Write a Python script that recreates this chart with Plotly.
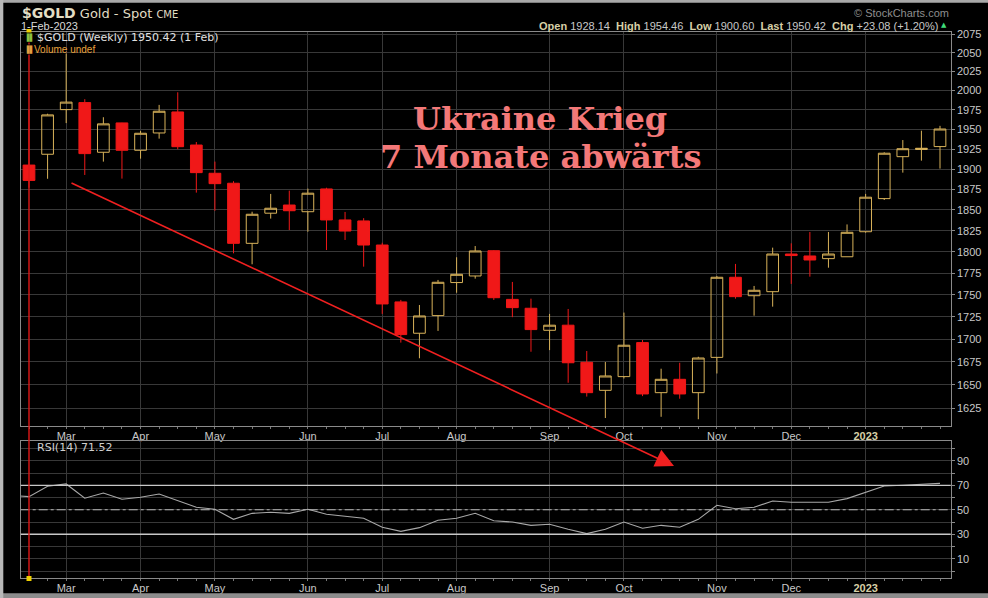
import plotly.graph_objects as go
import pandas as pd

W, H = 988, 598

# ---------------- data ----------------
week_start = pd.date_range("2022-02-21", periods=50, freq="7D")
opens = [1905, 1918.5, 1975.3, 1984.4, 1921, 1958.2, 1923.5, 1945.4, 1972.3, 1930.1,
         1894.8, 1882.5, 1810, 1846, 1855.9, 1847.8, 1875.5, 1837.9, 1836.7, 1808,
         1742, 1706.7, 1726.5, 1764.2, 1771.8, 1801.3, 1744.9, 1734.8, 1710, 1715.7,
         1674.6, 1644.2, 1659, 1696.3, 1641.7, 1656.1, 1641.7, 1680, 1770.3, 1749.1,
         1753.7, 1797.4, 1795.1, 1792, 1794.2, 1823.8, 1863.7, 1915.5, 1924.5, 1928.14]
highs = [1975, 1970, 2049, 1988.8, 1965.5, 1958.5, 1948, 1981.4, 1997.8, 1933.9,
         1909.3, 1885, 1847.8, 1869.4, 1873.4, 1875.9, 1877, 1847.5, 1840, 1810.7,
         1744.3, 1738.5, 1767.2, 1793.6, 1806.8, 1802, 1764.9, 1745.7, 1728.4, 1734,
         1687, 1674.9, 1729.9, 1699.2, 1667.6, 1674.1, 1680.7, 1771.8, 1785.8, 1760.3,
         1804.9, 1810, 1823.5, 1823.5, 1832.5, 1869.4, 1921, 1936.4, 1948.3, 1954.46]
lows = [1877, 1888, 1958, 1892.7, 1909.3, 1888.2, 1913, 1938.2, 1924.8, 1871,
        1849, 1798.2, 1785.4, 1839.5, 1825.8, 1823.8, 1802.1, 1814, 1782.6, 1728.4,
        1696.3, 1679, 1709.3, 1752.5, 1768.7, 1744.3, 1724.7, 1686.2, 1688, 1652.4,
        1637.5, 1614.7, 1657, 1638, 1616, 1635.2, 1613.4, 1662.4, 1745.7, 1726.4,
        1736.6, 1762.6, 1771, 1781.4, 1794.2, 1822.6, 1862, 1895.6, 1910.5, 1900.6]
closes = [1886, 1968.5, 1985, 1919.3, 1957, 1923.5, 1945, 1973.2, 1928, 1895.6,
          1882, 1810, 1844.7, 1852, 1849, 1870.3, 1837.9, 1824.6, 1808, 1739.7,
          1705.2, 1726.1, 1764.5, 1773.7, 1801, 1746.8, 1735.5, 1710.8, 1715.7, 1674.1,
          1641.7, 1659.7, 1693.4, 1640.3, 1656.1, 1640.3, 1679.3, 1770.3, 1748, 1755.3,
          1797.4, 1795.6, 1790.4, 1797.4, 1823.1, 1865.4, 1919.8, 1925.5, 1926, 1950.42]

rsi_dates = pd.date_range("2022-02-14", periods=51, freq="7D")
rsi_values = [61.8, 60.7, 69.2, 71.1, 59.4, 63.7, 58.6, 60.2, 62.9, 57.2,
              52.0, 50.4, 42.2, 47.1, 48.0, 47.1, 50.4, 46.3, 44.9, 43.1,
              35.7, 32.4, 35.4, 41.4, 43.1, 47.1, 41.1, 40.0, 37.3, 38.2,
              34.1, 30.5, 34.1, 40.0, 34.9, 37.3, 35.7, 42.2, 53.7, 50.9,
              52.0, 57.2, 56.1, 56.1, 56.1, 59.1, 64.0, 69.4, 70.0, 70.8, 71.52]

price_ticks = list(range(1625, 2076, 25))
rsi_grid = list(range(0, 101, 10))
rsi_labels = [10, 30, 50, 70, 90]

title_lines = ["Ukraine Krieg", "7 Monate abwärts"]
quote = {"Open": "1928.14", "High": "1954.46", "Low": "1900.60",
         "Last": "1950.42", "Chg": "+23.08 (+1.20%)"}

# ---------------- helpers ----------------
def px(x):
    return x / W

def py(y):
    return 1 - y / H

BG = "#000000"
GRID = "#383838"
FRAME = "#8a8a8a"
TXT = "#c8c8c8"
TAN = "#d6cfa6"
UP = "#d8b25a"
DOWN = "#f01818"

# month ticks at first candle of each month
month_pos, month_text = [], []
prev = None
for d in week_start:
    key = (d.year, d.month)
    if prev is not None and key != prev:
        month_pos.append(d)
        if d.month == 1:
            month_text.append(f"<b><span style='color:{TAN}'>{d.year}</span></b>")
        else:
            month_text.append(d.strftime("%b"))
    prev = key

step = pd.Timedelta(days=7)
x_range = [week_start[0] - step * 0.4465, week_start[-1] + step * 0.5756]

fig = go.Figure()

fig.add_trace(go.Candlestick(
    x=week_start, open=opens, high=highs, low=lows, close=closes,
    xaxis="x", yaxis="y", whiskerwidth=0,
    increasing=dict(line=dict(color=UP, width=1), fillcolor="rgba(0,0,0,0)"),
    decreasing=dict(line=dict(color=DOWN, width=1), fillcolor=DOWN),
    showlegend=False, hoverinfo="skip",
))

fig.add_trace(go.Scatter(
    x=rsi_dates, y=rsi_values, mode="lines", xaxis="x2", yaxis="y2",
    line=dict(color="#a8a8a8", width=1.1), showlegend=False, hoverinfo="skip",
))

font_axis = dict(family="Liberation Sans, Arial", size=11, color=TXT)

common_x = dict(
    type="date", range=x_range, tickvals=month_pos, ticktext=month_text,
    showgrid=True, gridcolor=GRID, gridwidth=1, showline=True, mirror=True,
    linecolor=FRAME, linewidth=1, ticks="", tickfont=font_axis,
    zeroline=False, domain=[px(20.7), px(950.7)],
    minor=dict(ticks="outside", ticklen=2, tickcolor="#777777",
               dtick=7 * 24 * 3600 * 1000, tick0=week_start[0], showgrid=False),
    automargin=False,
)

fig.update_layout(
    width=W, height=H,
    margin=dict(l=0, r=0, t=0, b=0),
    paper_bgcolor=BG, plot_bgcolor=BG,
    showlegend=False,
    boxgap=0.37, boxgroupgap=0,
    xaxis=dict(common_x, anchor="y", rangeslider=dict(visible=False)),
    xaxis2=dict(common_x, anchor="y2", matches="x"),
    yaxis=dict(
        domain=[py(426), py(31.7)], type="log",
        range=[3.20583, 3.31775], side="right",
        tickvals=price_ticks, ticktext=[str(v) for v in price_ticks],
        showgrid=True, gridcolor=GRID, showline=True, mirror=True,
        linecolor=FRAME, ticks="outside", ticklen=3, tickcolor=FRAME,
        tickfont=font_axis, zeroline=False, automargin=False, anchor="x",
    ),
    yaxis2=dict(
        domain=[py(578), py(440.7)], range=[-5.7, 106.4], side="right",
        tickvals=rsi_grid,
        ticktext=[str(v) if v in rsi_labels else "" for v in rsi_grid],
        showgrid=True, gridcolor=GRID, showline=True, mirror=True,
        linecolor=FRAME, ticks="outside", ticklen=3, tickcolor=FRAME,
        tickfont=font_axis, zeroline=False, automargin=False, anchor="x2",
    ),
)

shapes = [
    # RSI reference levels
    dict(type="line", xref="x2 domain", yref="y2", x0=0, x1=1, y0=70, y1=70,
         line=dict(color="#c8c8c8", width=1.3)),
    dict(type="line", xref="x2 domain", yref="y2", x0=0, x1=1, y0=30, y1=30,
         line=dict(color="#c8c8c8", width=1.3)),
    dict(type="line", xref="x2 domain", yref="y2", x0=0, x1=1, y0=50, y1=50,
         line=dict(color="#b8b8b8", width=1, dash="dashdot")),
    # start marker line
    dict(type="line", xref="x", yref="paper", x0=week_start[0], x1=week_start[0],
         y0=py(578), y1=py(31.7), line=dict(color="#e01818", width=1.4), layer="above"),
    dict(type="rect", xref="x", yref="paper", xsizemode="pixel", ysizemode="pixel",
         xanchor=week_start[0], yanchor=py(31.5), x0=-2.5, x1=2.5, y0=-2.5, y1=2.5,
         fillcolor="#f0d000", line=dict(width=0), layer="above"),
    dict(type="rect", xref="x", yref="paper", xsizemode="pixel", ysizemode="pixel",
         xanchor=week_start[0], yanchor=py(578.5), x0=-2.5, x1=2.5, y0=-2.5, y1=2.5,
         fillcolor="#f0d000", line=dict(width=0), layer="above"),
    # screenshot frame strips
    dict(type="rect", xref="paper", yref="paper", x0=0, x1=1, y0=0, y1=py(593.3),
         fillcolor="#8c8c8c", line=dict(width=0), layer="above"),
    dict(type="rect", xref="paper", yref="paper", x0=0, x1=1, y0=py(2.7), y1=1,
         fillcolor="#a8a8a8", line=dict(width=0), layer="above"),
    dict(type="rect", xref="paper", yref="paper", x0=0, x1=px(3.3), y0=0, y1=1,
         fillcolor="#b8b8b8", line=dict(width=0), layer="above"),
]
fig.update_layout(shapes=shapes)

NB = "\u00a0"
quote_txt = (NB * 2).join(
    f"<b><span style='color:{TAN}'>{k}</span></b>{NB}<span style='color:{TXT}'>{v}</span>"
    for k, v in quote.items()
)

ann = [
    dict(x=px(20), y=py(13), xanchor="left", yanchor="middle",
         text=f"<b><span style='font-size:14px;color:#e2ddc4'>$GOLD</span></b> "
              f"<span style='color:#e2ddc4'>Gold - Spot</span> "
              f"<span style='font-size:10px;color:#e2ddc4'>CME</span>",
         font=dict(family="DejaVu Sans", size=13, color="#e2ddc4")),
    dict(x=px(19), y=py(25.5), xanchor="left", yanchor="middle", text="1-Feb-2023",
         font=dict(family="Liberation Sans, Arial", size=11, color="#d8d8d8")),
    dict(x=px(951), y=py(12.5), xanchor="right", yanchor="middle", text="© StockCharts.com",
         font=dict(family="Liberation Sans, Arial", size=11, color="#8e8e8e")),
    dict(x=px(940), y=py(25.5), xanchor="right", yanchor="middle", text=quote_txt,
         font=dict(family="Liberation Sans, Arial", size=11, color=TXT)),
    dict(x=px(949), y=py(25), xanchor="right", yanchor="middle", text="▲",
         font=dict(family="DejaVu Sans", size=7, color="#3fdc7a")),
    # in-chart legend lines
    dict(x=px(22.5), y=py(37.5), xanchor="left", yanchor="middle", text="▐▌",
         font=dict(family="DejaVu Sans", size=7, color="#8ac040"), bgcolor=BG, borderpad=0),
    dict(x=px(35.5), y=py(37.5), xanchor="left", yanchor="middle",
         text="$GOLD (Weekly) 1950.42 (1 Feb)", borderpad=0,
         font=dict(family="DejaVu Sans", size=11, color="#e0e0e0")),
    dict(x=px(22.5), y=py(49.5), xanchor="left", yanchor="middle", text="▐▌",
         font=dict(family="DejaVu Sans", size=7, color="#e0a040"), bgcolor=BG, borderpad=0),
    dict(x=px(33), y=py(50), xanchor="left", yanchor="middle", text="Volume undef",
         borderpad=0,
         font=dict(family="Liberation Sans, Arial", size=10, color="#e8a23c")),
    dict(x=px(35), y=py(447.3), xanchor="left", yanchor="middle", text="RSI(14) 71.52",
         font=dict(family="DejaVu Sans", size=11, color="#d0d0d0")),
    # title
    dict(x=px(540), y=py(119), xanchor="center", yanchor="middle", text=f"<b>{title_lines[0]}</b>",
         font=dict(family="DejaVu Serif", size=32, color="#f47878")),
    dict(x=px(541), y=py(157), xanchor="center", yanchor="middle", text=f"<b>{title_lines[1]}</b>",
         font=dict(family="DejaVu Serif", size=32, color="#f47878")),
    # trend arrow
    dict(x=px(674), y=py(466), xref="paper", yref="paper", text="", showarrow=True,
         axref="pixel", ayref="pixel", ax=70 - 674, ay=182.3 - 466,
         arrowcolor="#f02020", arrowwidth=1.6, arrowhead=2, arrowsize=2.3),
]
for a in ann:
    a.setdefault("xref", "paper")
    a.setdefault("yref", "paper")
    a.setdefault("showarrow", False)
fig.update_layout(annotations=ann)

fig.write_html(
    "out.html",
    config={"displayModeBar": False},
    post_script="document.body.style.margin='0';document.body.style.padding='0';"
                "document.body.style.background='#000';",
)
